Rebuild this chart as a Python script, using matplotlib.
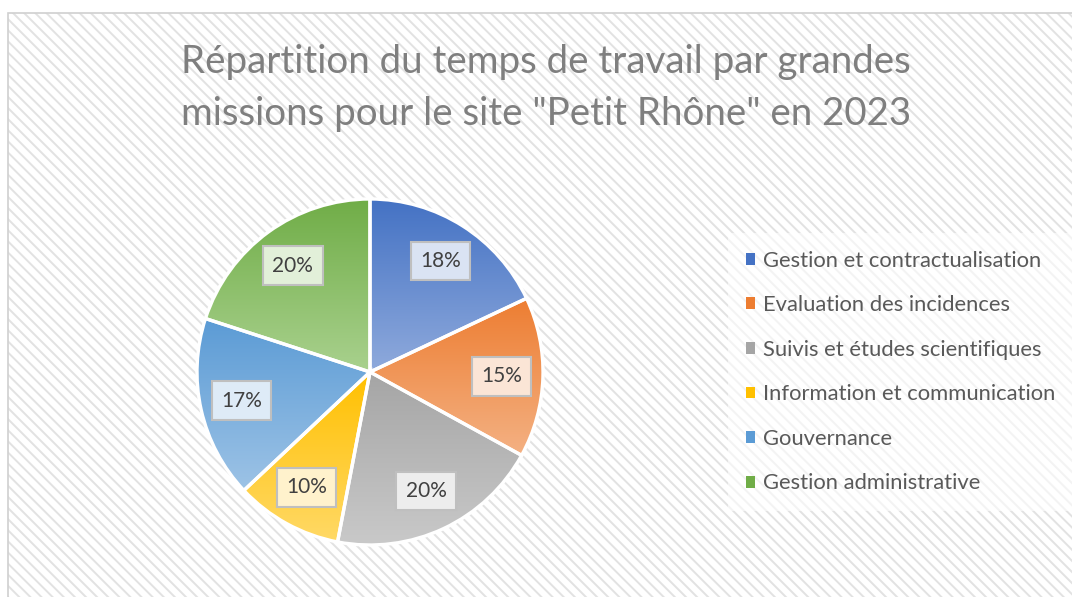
import numpy as np
import matplotlib
matplotlib.use('Agg')
import matplotlib.pyplot as plt
from matplotlib.patches import Rectangle, Patch
from matplotlib.colors import to_rgb

plt.rcParams['font.family'] = ['Lato', 'DejaVu Sans']
plt.rcParams['hatch.linewidth'] = 1.4

title = 'Répartition du temps de travail par grandes\nmissions pour le site "Petit Rhône" en 2023'
categories = ['Gestion et contractualisation', 'Evaluation des incidences',
              'Suivis et études scientifiques', 'Information et communication',
              'Gouvernance', 'Gestion administrative']
values = [18, 15, 20, 10, 17, 20]

# top colour, bottom colour of gradient, label box fill
top_cols = ['#4472C4', '#ED7D31', '#A5A5A5', '#FFC000', '#5B9BD5', '#70AD47']
bot_cols = ['#8FAADC', '#F4B183', '#C9C9C9', '#FFD966', '#9DC3E6', '#A9D18E']
box_cols = ['#DAE3F3', '#FBE5D6', '#EDEDED', '#FFF2CC', '#DEEBF7', '#E2F0D9']

W, H = 1072, 597
fig = plt.figure(figsize=(W / 100, H / 100), dpi=100)
fig.patch.set_facecolor('white')

# hatched chart background with thin border (hatch density 6 per char)
bg = Rectangle((8 / W, 0), 1 - 8 / W, 1 - 13 / H, transform=fig.transFigure,
               facecolor='white', edgecolor='#E2E2E2', hatch='\\\\\\', lw=0, zorder=-2)
fig.patches.append(bg)
frame = Rectangle((8 / W, -0.01), 1, 1 - 13 / H + 0.01, transform=fig.transFigure,
                  facecolor='none', edgecolor='#D0D0D0', lw=1.2, zorder=-1)
fig.patches.append(frame)

fig.text(546 / W, 1 - 88 / H, title, ha='center', va='center', fontsize=27.7,
         color='#7F7F7F', linespacing=1.55)

# pie axes: centre (370, 372) px, radius 173 px
cx, cy, R = 370, H - 372, 173
half = 190
ax = fig.add_axes([(cx - half) / W, (cy - half) / H, 2 * half / W, 2 * half / H])
ax.axis('off')

wedges, texts, autotexts = ax.pie(values, startangle=90, counterclock=False,
                                  autopct='%1.0f%%', pctdistance=0.76,
                                  wedgeprops=dict(edgecolor='white', linewidth=2.4),
                                  textprops=dict(fontsize=15, color='#404040'))

for w, c1, c2, bc, t in zip(wedges, top_cols, bot_cols, box_cols, autotexts):
    ext = w.get_path().get_extents()
    grad = np.linspace(0, 1, 256)[:, None, None]
    img = (1 - grad) * np.array(to_rgb(c1)) + grad * np.array(to_rgb(c2))
    im = ax.imshow(img, extent=[ext.x0, ext.x1, ext.y0, ext.y1], origin='upper',
                   aspect='auto', zorder=1)
    im.set_clip_path(w)
    w.set_facecolor('none')
    w.set_zorder(2)
    t.set_zorder(3)
    t.set_bbox(dict(boxstyle='square,pad=0.45', facecolor=bc, edgecolor='#BFBFBF', lw=1.5))

ax.set_xlim(-half / R, half / R)
ax.set_ylim(-half / R, half / R)

handles = [Patch(facecolor=c, edgecolor='none') for c in top_cols]
leg = fig.legend(handles, categories, loc='upper left',
                 bbox_to_anchor=(728 / W, 1 - 233 / H), frameon=True,
                 fontsize=15.8, labelcolor='#595959', handlelength=0.45,
                 handleheight=0.45, handletextpad=0.35, labelspacing=1.12,
                 borderpad=0.8, borderaxespad=0, fancybox=False)
leg.get_frame().set_facecolor('white')
leg.get_frame().set_alpha(0.6)
leg.get_frame().set_edgecolor('none')

fig.savefig('out.png', dpi=100)
